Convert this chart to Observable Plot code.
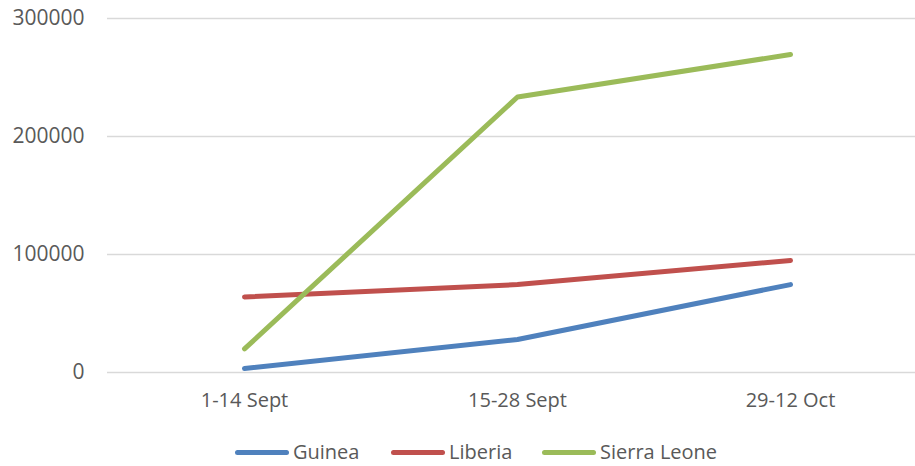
<!DOCTYPE html>
<html>
<head>
<meta charset="utf-8">
<script src="https://cdn.jsdelivr.net/npm/d3@7"></script>
<script src="https://cdn.jsdelivr.net/npm/@observablehq/plot@0.6"></script>
<style>
  body { margin: 0; background: #fff; font-family: "Open Sans", sans-serif; overflow: hidden; }
  #chart svg { display: block; }
  #legend { position: relative; height: 31px; width: 915px; }
  .item { position: absolute; top: 7px; display: flex; align-items: center; font-size: 20px; color: #595959; line-height: 20px; height: 20px; }
  .sw { width: 54px; height: 5px; border-radius: 3px; margin-right: 4px; }
  .yax text { font-size: 21px; }
</style>
</head>
<body>
<div id="chart"></div>
<div id="legend"></div>
<script>
const periods = ["1-14 Sept", "15-28 Sept", "29-12 Oct"];
const guinea = [3400, 28000, 74500];
const liberia = [64000, 74500, 95000];
const sierraLeone = [20000, 233500, 269500];
const seriesNames = ["Guinea", "Liberia", "Sierra Leone"];
const seriesColors = ["#4f81bd", "#c0504d", "#9bbb59"];
const yTicks = [0, 100000, 200000, 300000];

const seriesValues = [guinea, liberia, sierraLeone];
const rows = [];
seriesNames.forEach((s, i) => periods.forEach((p, j) => rows.push({series: s, period: p, value: seriesValues[i][j]})));

const plot = Plot.plot({
  width: 915,
  height: 435,
  marginLeft: 107,
  marginRight: 0,
  marginTop: 18,
  marginBottom: 63,
  style: {fontFamily: "Open Sans, sans-serif", fontSize: "20px", color: "#595959", background: "#fff"},
  x: {type: "point", domain: periods, range: [243, 790], padding: 0, label: null},
  y: {domain: [0, 300000], label: null},
  color: {domain: seriesNames, range: seriesColors},
  marks: [
    Plot.ruleY(yTicks, {stroke: "#d9d9d9", strokeWidth: 1.5}),
    Plot.axisY({ticks: yTicks, tickSize: 0, tickPadding: 23, tickFormat: d => String(d), label: null, fill: "#595959", className: "yax"}),
    Plot.axisX({tickSize: 0, tickPadding: 20, label: null, fill: "#595959"}),
    Plot.line(rows, {x: "period", y: "value", z: "series", stroke: "series", strokeWidth: 5, strokeLinecap: "round", strokeLinejoin: "round"})
  ]
});
document.getElementById("chart").appendChild(plot);

const legend = document.getElementById("legend");
const lefts = [235, 391, 542];
seriesNames.forEach((s, i) => {
  const it = document.createElement("div");
  it.className = "item";
  it.style.left = lefts[i] + "px";
  const sw = document.createElement("div");
  sw.className = "sw";
  sw.style.background = seriesColors[i];
  const t = document.createElement("span");
  t.textContent = s;
  it.appendChild(sw);
  it.appendChild(t);
  legend.appendChild(it);
});
</script>
</body>
</html>
